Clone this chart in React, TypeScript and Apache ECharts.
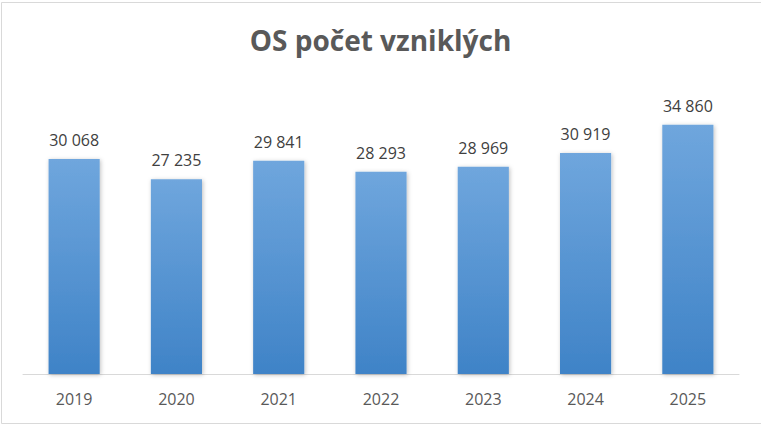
import React, { useRef, useEffect } from 'react';
import * as echarts from 'echarts';

const years = ['2019', '2020', '2021', '2022', '2023', '2024', '2025'];
const counts = [30068, 27235, 29841, 28293, 28969, 30919, 34860];

const formatCount = (v: number) =>
  String(v).replace(/\B(?=(\d{3})+(?!\d))/g, '\u00a0');

export default function App() {
  const chartRef = useRef<HTMLDivElement>(null);

  useEffect(() => {
    document.body.style.margin = '0';
    if (!chartRef.current) return;
    const chart = echarts.init(chartRef.current, undefined, { renderer: 'svg' });

    const option: echarts.EChartsOption = {
      animation: false,
      backgroundColor: '#ffffff',
      title: {
        text: 'OS počet vzniklých',
        left: 'center',
        top: 21,
        textStyle: {
          fontFamily: 'Open Sans',
          fontWeight: 'bold',
          fontSize: 28,
          color: '#595959',
        },
      },
      graphic: [
        {
          type: 'rect',
          shape: { x: 1.5, y: 2.5, width: 770, height: 421 },
          style: { fill: 'none', stroke: '#d9d9d9', lineWidth: 1 },
          silent: true,
        },
      ],
      grid: {
        left: 23,
        right: 22,
        top: 88,
        bottom: 55,
      },
      xAxis: {
        type: 'category',
        data: years,
        axisLine: { lineStyle: { color: '#d9d9d9', width: 1 } },
        axisTick: { show: false },
        axisLabel: {
          margin: 17,
          fontFamily: 'Open Sans',
          fontSize: 16,
          color: '#595959',
        },
      },
      yAxis: {
        type: 'value',
        min: 0,
        max: 40000,
        show: false,
        splitLine: { show: false },
      },
      series: [
        {
          type: 'bar',
          data: counts,
          barWidth: '50%',
          itemStyle: {
            color: new echarts.graphic.LinearGradient(0, 0, 0, 1, [
              { offset: 0, color: '#6fa6dd' },
              { offset: 1, color: '#3f83c7' },
            ]),
            shadowColor: 'rgba(0,0,0,0.25)',
            shadowBlur: 4,
            shadowOffsetX: 1,
            shadowOffsetY: 1,
          },
          label: {
            show: true,
            position: 'top',
            distance: 11,
            fontFamily: 'Open Sans',
            fontSize: 16,
            color: '#404040',
            formatter: (p: any) => formatCount(p.value as number),
          },
        },
      ],
    };

    chart.setOption(option);
    return () => {
      chart.dispose();
    };
  }, []);

  return <div ref={chartRef} style={{ width: 761, height: 429 }} />;
}
